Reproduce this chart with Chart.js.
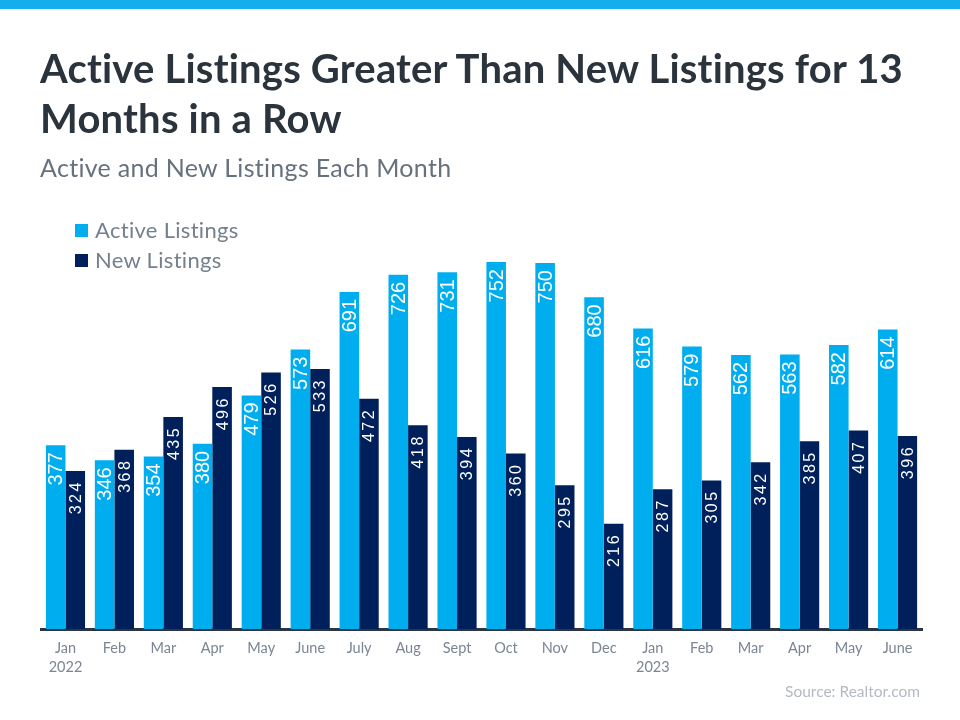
<!DOCTYPE html>
<html>
<head>
<meta charset="utf-8">
<script src="https://cdn.jsdelivr.net/npm/chart.js@4"></script>
<style>
  html, body { margin:0; padding:0; background:#fff; }
  body { width:960px; height:720px; position:relative; overflow:hidden; font-family:'Lato','Open Sans',sans-serif; }
  #topbar { position:absolute; left:0; top:0; width:960px; height:9px; background:#14aeef; }
  #title { position:absolute; left:40px; top:43px; font-family:'Lato',sans-serif; font-weight:700; font-size:40px; line-height:50px; color:#2b333d; letter-spacing:0.2px; white-space:nowrap; }
  #subtitle { position:absolute; left:40px; top:152px; font-family:'Lato',sans-serif; font-size:25px; color:#66717e; letter-spacing:0.3px; white-space:nowrap; }
  #legend { position:absolute; left:75px; top:215px; font-family:'Lato',sans-serif; font-size:22px; color:#74808e; letter-spacing:0.3px; }
  .li { height:30px; line-height:30px; display:flex; align-items:center; white-space:nowrap; }
  .sw { width:13px; height:13px; margin-right:7px; display:inline-block; }
  #source { position:absolute; right:40px; top:682px; font-family:'Lato',sans-serif; font-size:15.5px; color:#b3bac3; }
  #wrap { position:absolute; left:0; top:0; width:960px; height:720px; }
</style>
</head>
<body>
<div id="topbar"></div>
<div id="wrap"><canvas id="c"></canvas></div>
<div id="title">Active Listings Greater Than New Listings for 13<br>Months in a Row</div>
<div id="subtitle">Active and New Listings Each Month</div>
<div id="legend">
  <div class="li"><span class="sw" style="background:#00aeef"></span>Active Listings</div>
  <div class="li"><span class="sw" style="background:#00205b"></span>New Listings</div>
</div>
<div id="source">Source: Realtor.com</div>
<script>
const months = ['Jan','Feb','Mar','Apr','May','June','July','Aug','Sept','Oct','Nov','Dec','Jan','Feb','Mar','Apr','May','June'];
const years = {0:'2022', 12:'2023'};
const activeListings = [377,346,354,380,479,573,691,726,731,752,750,680,616,579,562,563,582,614];
const newListings = [324,368,435,496,526,533,472,418,394,360,295,216,287,305,342,385,407,396];

const labels = months.map((m,i) => years[i] ? [m, years[i]] : m);

const barLabelPlugin = {
  id: 'barLabels',
  afterDatasetsDraw(chart) {
    const ctx = chart.ctx;
    chart.data.datasets.forEach((ds, di) => {
      const meta = chart.getDatasetMeta(di);
      const isActive = di === 0;
      meta.data.forEach((bar, i) => {
        const txt = String(ds.data[i]);
        ctx.save();
        ctx.translate(bar.x, bar.y + (isActive ? 7 : 9));
        ctx.rotate(-Math.PI/2);
        ctx.fillStyle = '#ffffff';
        ctx.textAlign = 'right';
        ctx.textBaseline = 'middle';
        if (isActive) {
          ctx.font = '20px "Liberation Sans", Arial, sans-serif';
          ctx.fillText(txt, 0, 1);
        } else {
          ctx.font = '16px "Liberation Sans", Arial, sans-serif';
          if ('letterSpacing' in ctx) { ctx.letterSpacing = '2.5px'; }
          ctx.fillText(txt, 0, 1);
        }
        ctx.restore();
      });
    });
  }
};

new Chart(document.getElementById('c'), {
  type: 'bar',
  data: {
    labels: labels,
    datasets: [
      { label: 'Active Listings', data: activeListings, backgroundColor: '#00aeef', borderWidth: 0 },
      { label: 'New Listings', data: newListings, backgroundColor: '#00205b', borderWidth: 0 }
    ]
  },
  options: {
    responsive: true,
    maintainAspectRatio: false,
    animation: false,
    datasets: { bar: { categoryPercentage: 0.8, barPercentage: 1.0 } },
    layout: { padding: { left: 41, right: 38, top: 203, bottom: 41.5 } },
    plugins: { legend: { display: false }, tooltip: { enabled: false } },
    scales: {
      x: {
        grid: { display: false },
        border: { display: true, color: '#2d3640', width: 3 },
        ticks: { color: '#7b8594', font: { family: 'Lato', size: 14.5, lineHeight: 1.35 }, padding: 1, maxRotation: 0, autoSkip: false }
      },
      y: { display: false, min: 0, max: 873 }
    }
  },
  plugins: [barLabelPlugin]
});
</script>
</body>
</html>
